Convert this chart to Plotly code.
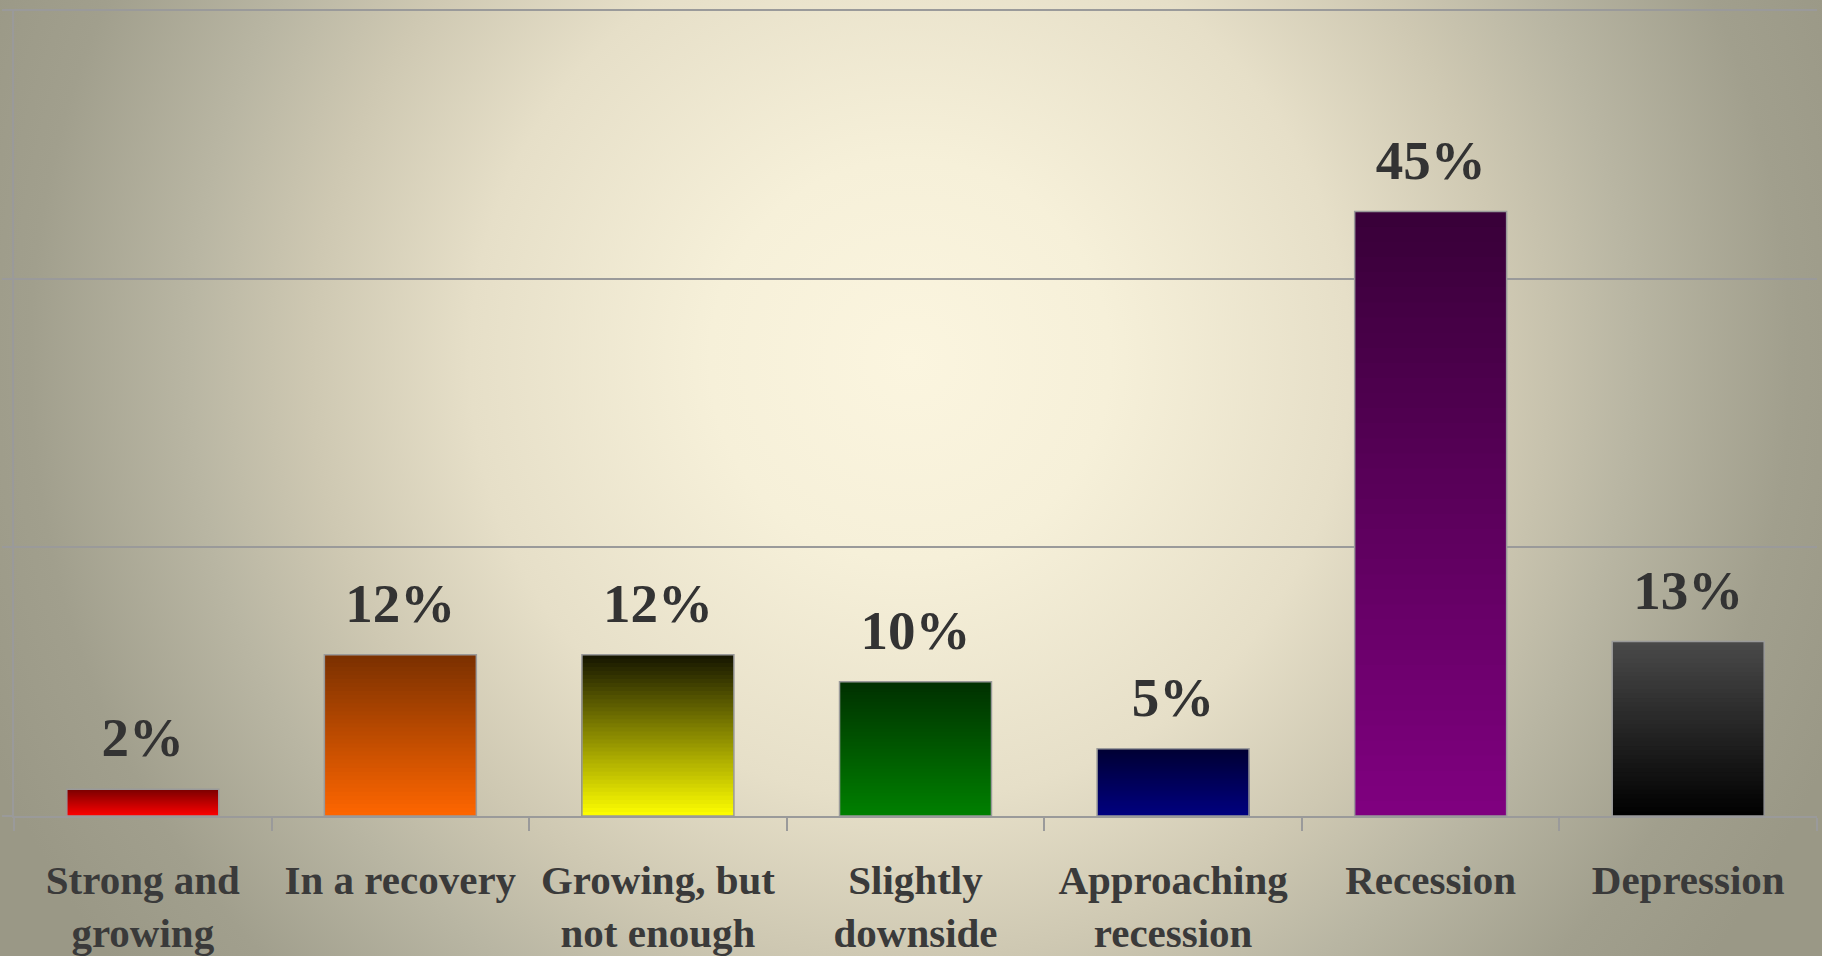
import base64
import plotly.graph_objects as go

# ---------------- data ----------------
categories = ["Strong and growing", "In a recovery", "Growing, but not enough",
              "Slightly downside", "Approaching recession", "Recession", "Depression"]
tick_labels = ["Strong and<br>growing", "In a recovery", "Growing, but<br>not enough",
               "Slightly<br>downside", "Approaching<br>recession", "Recession", "Depression"]
values = [2, 12, 12, 10, 5, 45, 13]
value_labels = ["2%", "12%", "12%", "10%", "5%", "45%", "13%"]

# ---------------- styles ----------------
top_colors = ["#7a0000", "#7a3000", "#141400", "#003000", "#000033", "#380038", "#4a4a4a"]
bottom_colors = ["#ff0000", "#ff6600", "#ffff00", "#008000", "#000080", "#800080", "#000000"]
N_STEPS = 40
FONT = "Liberation Serif"
GRID = "#9a9a9a"


def hex_rgb(h):
    h = h.lstrip("#")
    return tuple(int(h[i:i + 2], 16) for i in (0, 2, 4))


def mix(c_bottom, c_top, t):
    a, b = hex_rgb(c_bottom), hex_rgb(c_top)
    r = [round(a[i] + (b[i] - a[i]) * t) for i in range(3)]
    return f"rgb({r[0]},{r[1]},{r[2]})"


fig = go.Figure()

# gradient fill: overlaid bars, each shorter one on top of the previous
for k in range(N_STEPS):
    frac = 1 - k / N_STEPS
    mid = 1 - (k + 0.5) / N_STEPS
    cols = [mix(bc, tc, mid) for bc, tc in zip(bottom_colors, top_colors)]
    fig.add_trace(go.Bar(
        x=categories, y=[v * frac for v in values],
        marker=dict(color=cols, line=dict(width=0)),
        hoverinfo="skip", showlegend=False,
    ))

# outline of the bars
fig.add_trace(go.Bar(
    x=categories, y=values,
    marker=dict(color="rgba(0,0,0,0)", line=dict(color=GRID, width=1.5)),
    showlegend=False,
))

# value labels
fig.add_trace(go.Scatter(
    x=categories, y=values, mode="markers+text", text=value_labels,
    textposition="top center",
    marker=dict(size=29, opacity=0),
    textfont=dict(family=FONT, size=55, color="#333333", weight="bold"),
    hoverinfo="skip", showlegend=False,
))

# background radial gradient
W, H = 1822, 956
ML, MR, MT, MB = 14, 5, 9, 140
PW, PH = W - ML - MR, H - MT - MB
stops = [(0.0, "#fbf5df"), (0.2, "#f6f0d9"), (0.44, "#e6dfc8"), (0.6, "#cec8b2"),
         (0.72, "#b9b6a3"), (0.88, "#a19f8d"), (1.0, "#9a9886")]
stop_xml = "".join(f'<stop offset="{o}" stop-color="{c}"/>' for o, c in stops)
svg = (f'<svg xmlns="http://www.w3.org/2000/svg" width="{W}" height="{H}" viewBox="0 0 {W} {H}" '
       f'preserveAspectRatio="none"><defs><radialGradient id="g" gradientUnits="userSpaceOnUse" '
       f'cx="910" cy="360" r="1000">{stop_xml}</radialGradient></defs>'
       f'<rect width="{W}" height="{H}" fill="url(#g)"/></svg>')
src = "data:image/svg+xml;base64," + base64.b64encode(svg.encode()).decode()

fig.update_layout(
    width=W, height=H,
    margin=dict(l=ML, r=MR, t=MT, b=MB, pad=0),
    barmode="overlay", bargap=0.41,
    paper_bgcolor="#a09e8c", plot_bgcolor="rgba(0,0,0,0)",
    showlegend=False,
    images=[dict(source=src, xref="paper", yref="paper",
                 x=-ML / PW, y=1 + MT / PH, sizex=W / PW, sizey=H / PH,
                 xanchor="left", yanchor="top", sizing="stretch", layer="below")],
    xaxis=dict(
        type="category", tickvals=categories, ticktext=tick_labels,
        range=[-0.5, len(categories) - 0.5],
        tickson="boundaries", ticks="outside", ticklen=13, tickwidth=1.5, tickcolor=GRID,
        showline=True, linecolor=GRID, linewidth=1.5, showgrid=False,
        tickfont=dict(family=FONT, size=41, color="#3a3a3a", weight="bold"),
        ticklabelstandoff=27, automargin=False, fixedrange=True,
    ),
    yaxis=dict(
        range=[0, 60.08], tick0=0, dtick=20,
        showgrid=True, gridcolor=GRID, gridwidth=1.5, zeroline=False,
        showline=True, linecolor=GRID, linewidth=1.5,
        ticks="outside", ticklen=10, tickwidth=1.5, tickcolor=GRID,
        showticklabels=False, automargin=False, fixedrange=True,
    ),
)

fig.write_html(
    "out.html",
    config={"displayModeBar": False},
    post_script="document.body.style.margin='0px';document.body.style.overflow='hidden';",
)
